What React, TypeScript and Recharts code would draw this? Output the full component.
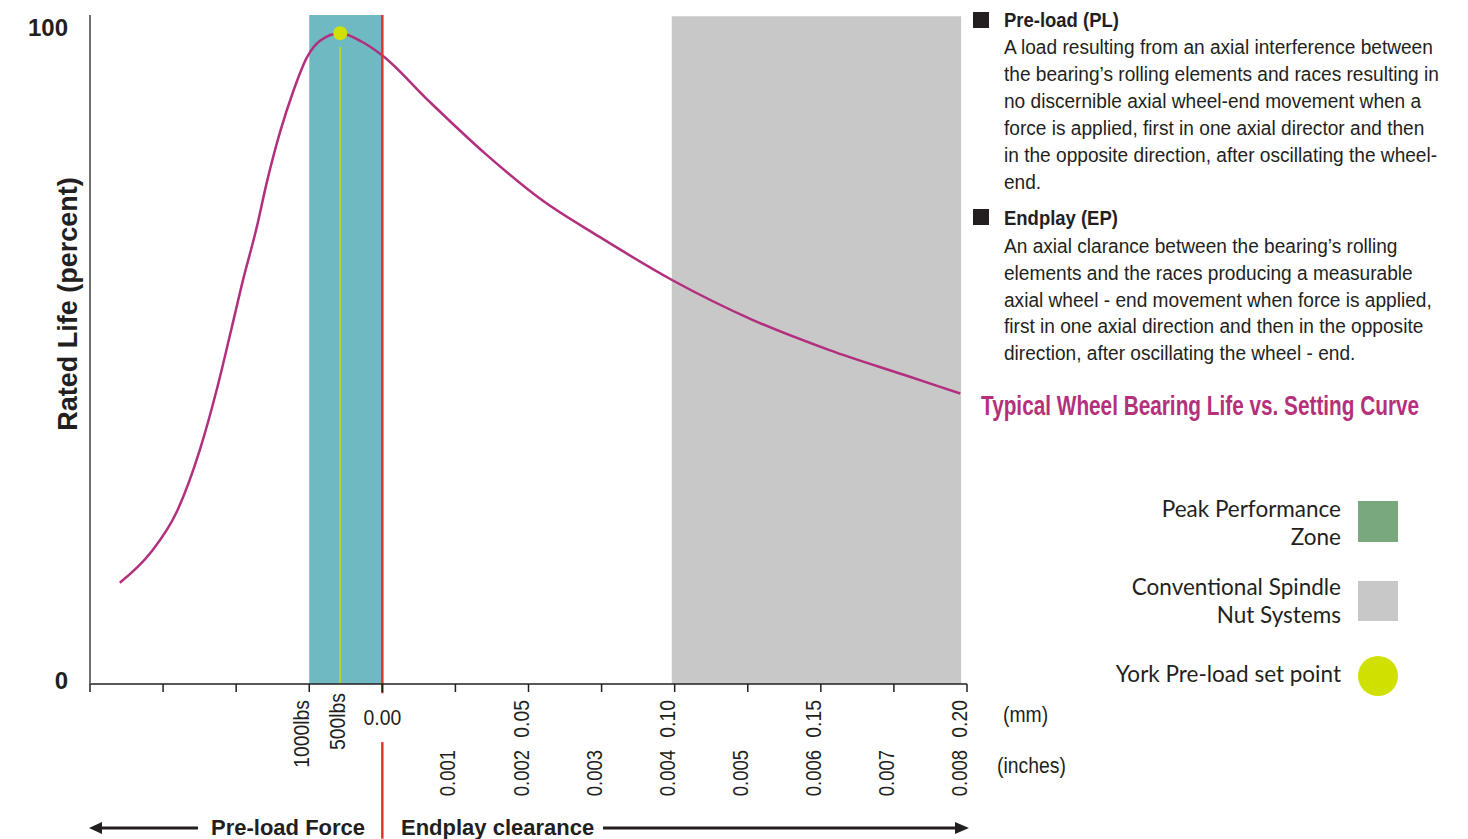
import {
  Line,
  LineChart,
  ReferenceArea,
  ReferenceDot,
  ReferenceLine,
  XAxis,
  YAxis,
} from "recharts";

// setting (mm, negative = pre-load side) vs rated life (%)
const settingMm = [
  -0.0898, -0.0793, -0.0704, -0.0624, -0.0567, -0.0521, -0.0476, -0.043,
  -0.0396, -0.0349, -0.0304, -0.0258, -0.0212, -0.0144, -0.007, 0, 0.0155,
  0.0351, 0.0547, 0.0743, 0.0991, 0.1266, 0.1527, 0.1789, 0.1977,
];
const ratedLife = [
  15.5, 20.1, 26.3, 35.9, 45.0, 53.5, 62.0, 69.9, 76.7, 84.7, 90.9, 96.0, 98.6,
  99.7, 98.4, 96.3, 89.5, 81.3, 74.1, 68.5, 61.9, 55.8, 51.2, 47.3, 44.5,
];

const mmTicks = [
  -0.1, -0.075, -0.05, -0.025, 0, 0.025, 0.05, 0.075, 0.1, 0.125, 0.15, 0.175,
  0.2,
];
const mmLabels = ["", "", "", "1000lbs", "0.00", "", "0.05", "", "0.10", "", "0.15", "", "0.20"];
const inchLabels = ["", "", "", "", "", "0.001", "0.002", "0.003", "0.004", "0.005", "0.006", "0.007", "0.008"];
const yTicks = [0, 100];

const peakZone = [-0.025, 0];
const conventionalZone = [0.099, 0.198];
const setPoint = { mm: -0.0144, life: 99.7, label: "500lbs" };

const preloadLines = [
  "A load resulting from an axial interference between",
  "the bearing\u2019s rolling elements and races resulting in",
  "no discernible axial wheel-end movement when a",
  "force is applied, first in one axial director and then",
  "in the opposite direction, after oscillating the wheel-",
  "end.",
];
const endplayLines = [
  "An axial clarance between the bearing\u2019s rolling",
  "elements and the races producing a measurable",
  "axial wheel - end movement when force is applied,",
  "first in one axial direction and then in the opposite",
  "direction, after oscillating the wheel - end.",
];

const INK = "#231f20";
const sans = '"Liberation Sans", Arial, sans-serif';
const legendFont = 'Lato, "Open Sans", sans-serif';

const data = settingMm.map((mm, i) => ({ mm, life: ratedLife[i] }));

// condensed-looking text (Liberation Sans squeezed), optionally rotated upward
function NText({ x, y, rotate, anchor, size, bold, fill, squeeze, children }: any) {
  const rot = rotate ? " rotate(-90)" : "";
  return (
    <text
      transform={`translate(${x},${y})${rot} scale(${squeeze || 0.88},1)`}
      textAnchor={anchor || "start"}
      fontFamily={sans}
      fontSize={size || 21}
      fontWeight={bold ? "bold" : "normal"}
      fill={fill || INK}
    >
      {children}
    </text>
  );
}

function renderXTick(p: any) {
  const i = mmTicks.indexOf(p.payload.value);
  const label = mmLabels[i];
  const inch = inchLabels[i];
  const x = p.x;
  const y = p.y;
  return (
    <g>
      {label && label !== "0.00" && (
        <NText x={x} y={y + 6} rotate anchor="end" size={22}>
          {label}
        </NText>
      )}
      {label === "0.00" && (
        <NText x={x} y={y + 31} anchor="middle" size={22}>
          {label}
        </NText>
      )}
      {inch && (
        <NText x={x} y={y + 56} rotate anchor="end" size={22} squeeze={0.84}>
          {inch}
        </NText>
      )}
    </g>
  );
}

function renderYTick(p: any) {
  return (
    <text
      x={p.x - 14}
      y={p.y - 4}
      textAnchor="end"
      dominantBaseline="central"
      fontFamily={sans}
      fontWeight="bold"
      fontSize={24}
      fill={INK}
    >
      {p.payload.value}
    </text>
  );
}

function SetPointLabel(p: any) {
  const vb = p.viewBox || {};
  return (
    <NText x={vb.x + 5} y={vb.y + vb.height + 9} rotate anchor="end" size={22}>
      {setPoint.label}
    </NText>
  );
}

export default function App() {
  return (
    <div style={{ position: "absolute", left: 0, top: 0, width: 1468, height: 839, background: "#fff" }}>
      <LineChart width={1468} height={839} data={data} margin={{ top: 15, right: 501, bottom: 35, left: 40 }}>
        <XAxis
          type="number"
          dataKey="mm"
          domain={[-0.1, 0.2]}
          ticks={mmTicks}
          interval={0}
          allowDataOverflow
          height={120}
          tickSize={8}
          tickLine={{ stroke: INK, strokeWidth: 1.5 }}
          axisLine={{ stroke: INK, strokeWidth: 1.5 }}
          tick={renderXTick}
        />
        <YAxis
          type="number"
          domain={[0, 102.5]}
          ticks={yTicks}
          allowDataOverflow
          width={50}
          tickLine={false}
          axisLine={{ stroke: "#6d6e71", strokeWidth: 2 }}
          tick={renderYTick}
        />
        <ReferenceArea x1={peakZone[0]} x2={peakZone[1]} y1={0} y2={102.5} fill="#6fb9c2" fillOpacity={1} stroke="none" />
        <ReferenceArea
          x1={conventionalZone[0]}
          x2={conventionalZone[1]}
          y1={0}
          y2={102.3}
          fill="#c8c8c8"
          fillOpacity={1}
          stroke="none"
        />
        <ReferenceLine
          segment={[
            { x: setPoint.mm, y: 0 },
            { x: setPoint.mm, y: 97.6 },
          ]}
          stroke="#b5d334"
          strokeWidth={2}
          label={<SetPointLabel />}
        />
        <Line
          type="monotone"
          dataKey="life"
          stroke="#b22f7e"
          strokeWidth={2.5}
          dot={false}
          isAnimationActive={false}
        />
        <ReferenceLine
          segment={[
            { x: 0, y: -1.4 },
            { x: 0, y: 102.5 },
          ]}
          ifOverflow="visible"
          stroke="#e3342b"
          strokeWidth={2.5}
        />
        <ReferenceLine
          segment={[
            { x: 0, y: -8.9 },
            { x: 0, y: -23.7 },
          ]}
          ifOverflow="visible"
          stroke="#e3342b"
          strokeWidth={2.5}
        />
        <ReferenceDot x={setPoint.mm} y={setPoint.life} r={7} fill="#d0e000" stroke="none" />
      </LineChart>

      <svg
        width={1468}
        height={839}
        style={{ position: "absolute", left: 0, top: 0, pointerEvents: "none" }}
      >
        <text
          transform="translate(77,304) rotate(-90)"
          textAnchor="middle"
          fontFamily={sans}
          fontWeight="bold"
          fontSize={27}
          fill={INK}
        >
          Rated Life (percent)
        </text>

        <NText x={1003} y={722} size={22}>
          (mm)
        </NText>
        <NText x={997} y={773} size={22}>
          (inches)
        </NText>

        {/* direction arrows */}
        <line x1={100} y1={828} x2={198} y2={828} stroke={INK} strokeWidth={3} />
        <polygon points="89,828 102,822 102,834" fill={INK} />
        <text x={211} y={835} fontFamily={sans} fontWeight="bold" fontSize={22} fill={INK}>
          Pre-load Force
        </text>
        <text x={401} y={835} fontFamily={sans} fontWeight="bold" fontSize={22} fill={INK}>
          Endplay clearance
        </text>
        <line x1={603} y1={828} x2={958} y2={828} stroke={INK} strokeWidth={3} />
        <polygon points="969,828 955,822 955,834" fill={INK} />

        {/* definitions */}
        <rect x={973} y={12} width={16} height={16} fill={INK} />
        <NText x={1004} y={27} bold>
          Pre-load (PL)
        </NText>
        {preloadLines.map((l, i) => (
          <NText key={l} x={1004} y={54 + i * 27} squeeze={0.91}>
            {l}
          </NText>
        ))}
        <rect x={973} y={209} width={16} height={16} fill={INK} />
        <NText x={1004} y={225} bold>
          Endplay (EP)
        </NText>
        {endplayLines.map((l, i) => (
          <NText key={l} x={1004} y={253 + i * 26.8} squeeze={0.91}>
            {l}
          </NText>
        ))}

        <NText x={981} y={415} size={28} bold squeeze={0.742} fill="#b5307b">
          Typical Wheel Bearing Life vs. Setting Curve
        </NText>

        {/* legend */}
        <text x={1341} y={517} textAnchor="end" fontFamily={legendFont} fontSize={22.5} fill={INK}>
          Peak Performance
        </text>
        <text x={1341} y={545} textAnchor="end" fontFamily={legendFont} fontSize={22.5} fill={INK}>
          Zone
        </text>
        <rect x={1358} y={501} width={40} height={41} fill="#78a87c" />
        <text x={1341} y={595} textAnchor="end" fontFamily={legendFont} fontSize={22.5} fill={INK}>
          Conventional Spindle
        </text>
        <text x={1341} y={623} textAnchor="end" fontFamily={legendFont} fontSize={22.5} fill={INK}>
          Nut Systems
        </text>
        <rect x={1358} y={581} width={40} height={40} fill="#c8c8c8" />
        <text x={1341} y={682} textAnchor="end" fontFamily={legendFont} fontSize={22.5} fill={INK}>
          York Pre-load set point
        </text>
        <circle cx={1378} cy={676} r={20} fill="#d0e000" />
      </svg>
    </div>
  );
}
